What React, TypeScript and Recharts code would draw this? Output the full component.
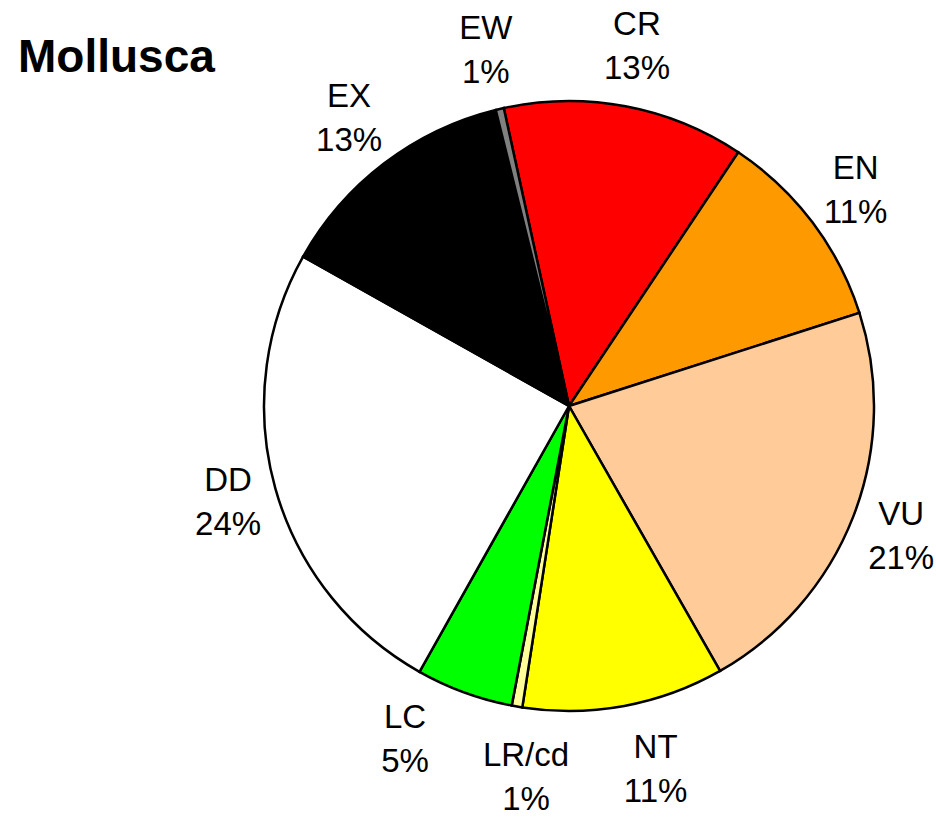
import { PieChart, Pie, Cell } from "recharts";

const categories = ["CR", "EN", "VU", "NT", "LR/cd", "LC", "DD", "EX", "EW"];
const shares = [12.8, 10.7, 21.7, 10.7, 0.56, 5.15, 25.0, 13.0, 0.43];
const percentLabels = ["13%", "11%", "21%", "11%", "1%", "5%", "24%", "13%", "1%"];
const colors = ["#FF0000", "#FF9900", "#FFCC99", "#FFFF00", "#FFFF99", "#00FF00", "#FFFFFF", "#000000", "#808080"];

const data = categories.map((name, i) => ({ name, value: shares[i], pct: percentLabels[i] }));

const RAD = Math.PI / 180;
const FONT = "'Liberation Sans', Arial, sans-serif";
const START = 102.35;
const CX = 569;
const CY = 406;
const FS = 33;

// rough Arial advance widths, in em
function textWidth(s: string) {
  let w = 0;
  for (const ch of s) {
    if (ch === "%") w += 0.889;
    else if (ch === "/") w += 0.278;
    else if (ch === "W") w += 0.944;
    else if ("CDNRUV".includes(ch)) w += 0.722;
    else if ("EX".includes(ch)) w += 0.667;
    else w += 0.556;
  }
  return w * FS;
}

// label distance from centre: further out above/below the pie, a touch more below
const labelDist = (mid: number) => {
  const s = Math.sin(mid * RAD);
  return 347 + 20 * Math.abs(s) + (s < 0 ? 6 * Math.abs(s) : 0);
};

const labelPos = (mid: number) => {
  const d = labelDist(mid);
  return { x: CX + d * Math.cos(-mid * RAD), y: CY + d * Math.sin(-mid * RAD) };
};

// spread neighbouring labels apart when their boxes would overlap
function spreadAngles() {
  const total = shares.reduce((a, b) => a + b, 0);
  let acc = 0;
  const mids = shares.map((v) => {
    const a = START - ((acc + v / 2) / total) * 360;
    acc += v;
    return a;
  });
  const widths = data.map((d) => Math.max(textWidth(d.name), textWidth(d.pct)));
  for (let it = 0; it < 400; it++) {
    let moved = false;
    for (let i = 0; i < mids.length - 1; i++) {
      const j = i + 1;
      const p = labelPos(mids[i]);
      const q = labelPos(mids[j]);
      if (Math.abs(p.x - q.x) < (widths[i] + widths[j]) / 2 + 52 && Math.abs(p.y - q.y) < 70) {
        mids[i] += 0.2;
        mids[j] -= 0.2;
        moved = true;
      }
    }
    if (!moved) break;
  }
  return mids;
}

const labelAngles = spreadAngles();

function renderLabel(props: any) {
  const { index } = props;
  const { x, y } = labelPos(labelAngles[index]);
  const top = y - 10.5;
  return (
    <text key={`lbl-${index}`} x={x} y={top} textAnchor="middle" fontFamily={FONT} fontSize={FS} fill="#000">
      <tspan x={x} y={top}>
        {data[index].name}
      </tspan>
      <tspan x={x} y={top + 44}>
        {data[index].pct}
      </tspan>
    </text>
  );
}

export default function App() {
  return (
    <div style={{ position: "absolute", left: 0, top: 0, width: 936, height: 817, background: "#fff" }}>
      <svg width={936} height={100} style={{ position: "absolute", left: 0, top: 0 }}>
        <text x={18} y={72} fontFamily={FONT} fontWeight="bold" fontSize={46} fill="#000">
          Mollusca
        </text>
      </svg>
      <PieChart
        width={936}
        height={817}
        margin={{ top: 0, right: 0, bottom: 0, left: 0 }}
        style={{ position: "absolute", left: 0, top: 0 }}
      >
        <Pie
          data={data}
          dataKey="value"
          nameKey="name"
          cx={CX}
          cy={CY}
          outerRadius={305}
          startAngle={START}
          endAngle={START - 360}
          stroke="#000"
          strokeWidth={2.5}
          label={renderLabel}
          labelLine={false}
          isAnimationActive={false}
        >
          {data.map((d, i) => (
            <Cell key={d.name} fill={colors[i]} />
          ))}
        </Pie>
      </PieChart>
    </div>
  );
}
